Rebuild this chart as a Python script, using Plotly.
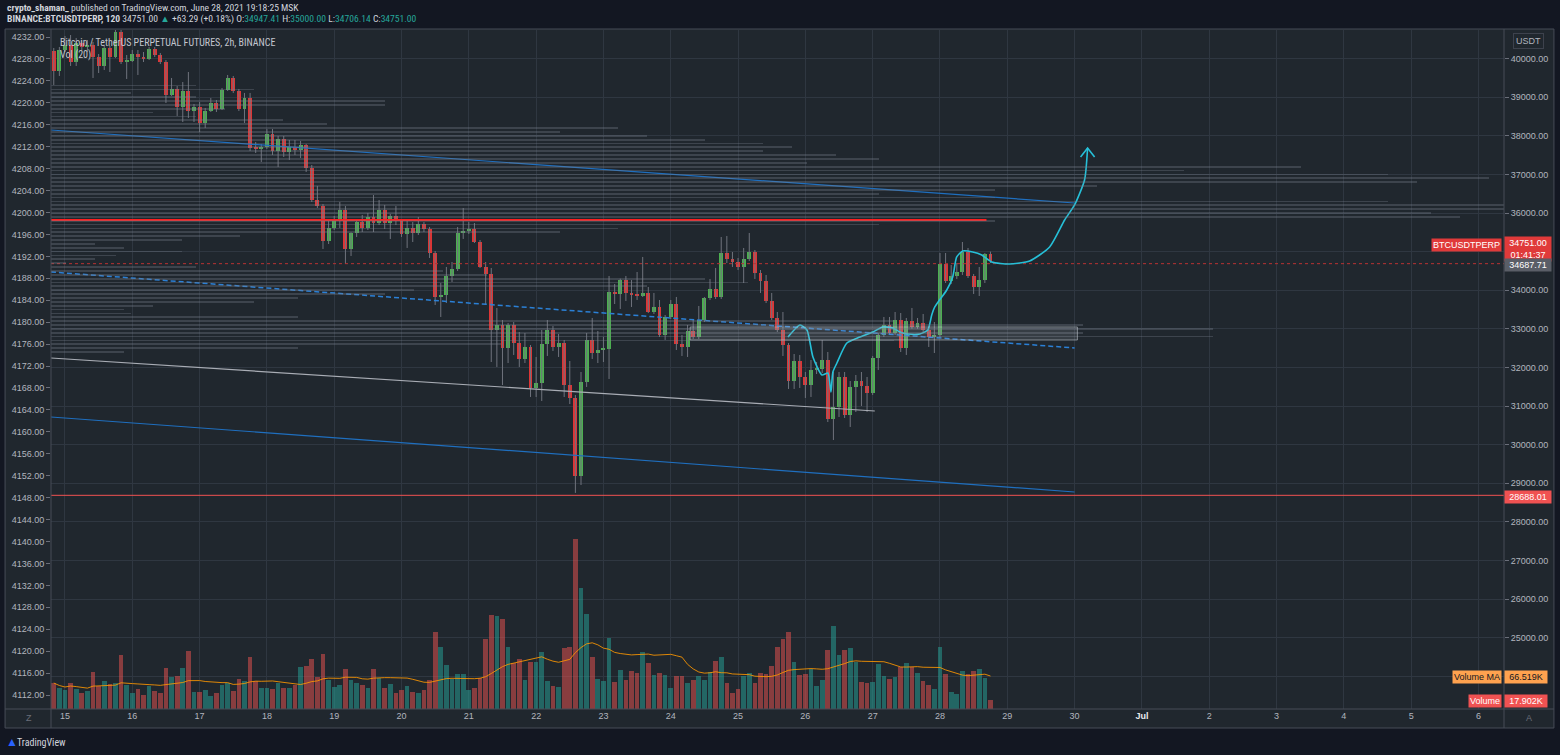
import pandas as pd
import plotly.graph_objects as go

# ---------------- data ----------------
bar_times = pd.date_range("2021-06-14 20:00", periods=168, freq="2h")

opens = [40196,39678,40222,40352,39911,40403,40300,40352,40041,39808,
40274,40041,40688,39911,39937,40118,40041,39989,40248,40092,
39911,39057,39212,38746,39160,38642,38746,38331,38642,38849,
38694,39186,39497,39160,38694,38979,37684,37658,37710,38046,
37606,37917,37580,37710,37630,37760,37166,36337,36182,35275,
35612,35793,36078,35068,35482,35767,35612,35897,35741,36078,
35741,35923,35793,35456,35612,35482,35715,35586,34964,33825,
33877,34369,34550,35482,35530,35586,35249,34602,34421,32970,
33100,32504,33100,32633,32219,32530,31468,31597,32607,32970,
32530,32633,31545,31209,29189,31623,32711,32374,32452,32478,
33955,33903,34265,33929,33877,33851,33929,33436,33566,32841,
33307,33643,32607,32530,32944,32789,33229,33799,34032,33825,
34964,34809,34731,34602,34809,34990,34446,34239,33721,33281,
32970,32582,31649,32167,31753,31545,31934,31960,32193,30665,
30976,31753,30768,31494,31649,31519,31338,32245,32841,33100,
32892,33229,32504,33203,33048,33151,32970,32789,32841,34679,
34239,34369,34472,34990,34369,34084,34265,34947.41]

closes = [39678,40222,40352,39911,40403,40300,40352,40041,39808,40274,
40041,40688,39911,39937,40118,40041,39989,40248,40092,39911,
39057,39212,38746,39160,38642,38746,38331,38642,38849,38694,
39186,39497,39160,38694,38979,37684,37658,37710,38046,37606,
37917,37580,37710,37630,37760,37166,36337,36182,35275,35612,
35793,36078,35068,35482,35767,35612,35897,35741,36078,35741,
35923,35793,35456,35612,35482,35715,35586,34964,33825,33877,
34369,34550,35482,35530,35586,35249,34602,34421,32970,33100,
32504,33100,32633,32219,32530,31468,31597,32607,32970,32530,
32633,31545,31209,29189,31623,32711,32374,32452,32478,33955,
33903,34265,33929,33877,33851,33929,33436,33566,32841,33307,
33643,32607,32530,32944,32789,33229,33799,34032,33825,34964,
34809,34731,34602,34809,34990,34446,34239,33721,33281,32970,
32582,31649,32167,31753,31545,31934,31960,32193,30665,30976,
31753,30768,31494,31649,31519,31338,32245,32841,33100,32892,
33229,32504,33203,33048,33151,32970,32789,32841,34679,34239,
34369,34472,34990,34369,34084,34265,34938,34751.00]

highs = [40274,40300,40585,40610,40533,40481,40481,40429,40118,40352,
40326,40780,40900,40092,40222,40222,40170,40300,40300,40144,
39963,39497,39290,39393,39652,38823,38875,38720,38979,38927,
39238,39575,39549,39212,39109,39109,37839,37787,38176,38176,
37995,37995,37891,37891,37865,37790,37244,36700,36234,35793,
35923,36285,36182,35500,35819,35949,36000,36466,36337,36208,
35974,36182,35845,35793,35767,35897,35767,35638,35016,34187,
34602,34731,35638,36130,35767,35741,35301,34731,34576,33540,
33229,33151,33177,32918,32892,32582,32271,32970,33229,33074,
32866,32711,32167,31286,31882,32892,33281,32944,32789,34369,
34161,34300,34369,34265,34472,34861,34084,33929,33747,33359,
33747,33825,32841,33100,33229,33592,33825,34291,34576,35379,
35405,34990,34835,35094,35482,35042,34524,34395,33929,33436,
33436,32633,32348,32323,31882,32193,32141,32711,32400,31882,
31882,31882,31649,31804,31882,31753,32297,32892,33307,33307,
33436,33410,33281,33540,33281,33385,33048,33177,34964,34964,
34654,34705,35249,35094,34421,34602,34964,35000.00]

lows = [39316,39549,40170,39808,39808,40222,40170,39497,39626,39704,
39652,40015,39859,39471,39911,39575,39911,39963,40041,39859,
38849,39031,38513,38357,38461,38357,38098,38202,38616,38616,
38668,39160,39109,38642,38331,37606,37554,37321,37658,37503,
37192,37451,37373,37503,37425,37062,36285,36130,35068,35197,
35560,35612,34679,34887,35379,35508,35560,35508,35689,35586,
35327,35689,35379,35094,35249,35431,35508,34835,33618,33307,
33669,34213,34498,35327,35456,35223,34576,33618,32141,32012,
31545,32115,32323,32012,32115,31235,31235,31131,32297,32426,
32271,31235,31053,28750,28955,31494,32219,32115,32141,31701,
33643,33514,33721,33566,33747,33825,33410,33385,32789,32711,
33255,32452,32297,32271,32737,32737,33177,33747,33773,33773,
34705,34602,34524,34187,34757,34291,33929,33669,33229,32918,
32297,31442,31442,31468,31209,31235,31830,31856,30587,30121,
30717,30691,30458,30846,31002,30846,31286,31934,32789,32841,
32841,32400,32323,32996,32996,32918,32530,32374,32763,34187,
34161,34291,34395,34317,33903,33851,34187,34706.14]

volumes_k = [52,42,38,52,40,32,36,74,47,57,
51,52,108,49,32,40,28,47,37,32,
82,65,67,83,116,35,35,38,27,33,
49,52,36,61,57,105,56,42,42,40,
53,42,43,49,84,87,101,65,111,59,
45,49,80,59,53,48,43,80,62,42,
51,33,38,47,35,32,39,59,154,124,
89,60,71,71,39,43,62,141,189,187,
181,124,92,100,59,94,94,114,57,47,
45,123,124,340,242,191,104,60,56,143,
55,79,59,77,73,114,93,69,73,69,
43,67,67,53,59,67,59,74,97,104,
52,33,41,67,72,53,72,71,87,124,
141,155,95,69,71,80,47,59,119,167,
108,119,122,95,55,52,55,91,67,61,
65,84,92,84,72,57,48,41,125,71,
34,31,77,71,77,81,63,17.902]

# drawings (time, price)
channel_t = ["2021-06-14 19:00", "2021-06-30 00:00"]
upper_channel_p = [38150, 36259]
mid_channel_p = [34472, 32504]
lower_channel_p = [30717, 28774]
support_t = ["2021-06-14 19:00", "2021-06-27 00:45"]
support_p = [32245, 30872]
resistance_t = ["2021-06-14 19:00", "2021-06-28 16:35"]
resistance_level = 35819
low_level = 28688.01
prev_close_level = 34687.71
last_price = 34751.00
zone_t = ["2021-06-24 06:55", "2021-06-30 01:00"]
zone_p = [32711, 33048]

proj_t = ["2021-06-25 17:48","2021-06-25 22:05","2021-06-26 00:34","2021-06-26 02:42",
          "2021-06-26 05:54","2021-06-26 08:02","2021-06-26 09:07","2021-06-26 09:49",
          "2021-06-26 11:15","2021-06-26 14:48","2021-06-26 19:26","2021-06-27 00:04",
          "2021-06-27 03:37","2021-06-27 07:12","2021-06-27 09:42","2021-06-27 12:32",
          "2021-06-27 16:48","2021-06-27 19:39","2021-06-27 21:04","2021-06-27 22:09",
          "2021-06-28 02:25","2021-06-28 04:33","2021-06-28 05:58","2021-06-28 08:07",
          "2021-06-28 11:41","2021-06-28 14:53","2021-06-28 18:27","2021-06-29 00:52",
          "2021-06-29 07:58","2021-06-29 15:06","2021-06-29 20:27","2021-06-30 00:00",
          "2021-06-30 03:33","2021-06-30 04:38"]
proj_p = [32789,33100,32970,32271,31804,31856,31364,31882,32115,32633,32789,32918,
          33048,33022,32918,32866,32866,32970,33359,33566,34006,34343,34861,35016,
          34990,34912,34731,34679,34757,35120,35819,36208,36855,37684]
arrow_t = ["2021-06-30 02:08", "2021-06-30 04:38", "2021-06-30 07:08"]
arrow_p = [37451, 37684, 37451]

# volume profile rows (price level, relative volume 0-100)
vp_price = [39300,39200,39100,39000,38900,38800,38700,38600,38500,38400,38300,38200,
            38100,38000,37900,37800,37700,37600,37500,37400,37300,37200,37100,37000,
            36900,36800,36700,36600,36500,36400,36300,36200,36100,36000,35900,35800,
            35700,35600,35500,35400,35300,35200,35100,35000,34900,34800,34700,34600,
            34500,34400,34300,34200,34100,34000,33900,33800,33700,33600,33500,33400,
            33300,33200,33100,33000,32900,32800,32700,32600,32500,32400]
vp_size = [10,14,5.5,10,23,23,12,7,10,16,19,39,
           35,41,45,49,51,49,54,57,52,86,78,92,
           99,94,72,65,57,65,92,100,100,95,97,65,
           57,39,35,13,9,3,5,9,4.5,3,1,10,
           27,30,45,48,41,25,23,17,14,7,5,5.5,
           17,58,71,80,71,80,58,31,17,5]

# ---------------- styling helpers ----------------
W, H = 1560, 755
ML, MR, MT, MB = 50, 55, 30, 46
PW, PH = W - ML - MR, H - MT - MB
def px(X):
    return (X - ML) / PW
def py(Y):
    return (H - MB - Y) / PH

BG = "#20272e"
GRID = "#2f3741"
SEP = "#474c57"
TXT = "#b2b5be"
UP, DOWN = "#4caf50", "#dd3535"
FONT = "Liberation Sans"
NARROW = "Liberation Sans Narrow, Arial Narrow, Roboto Condensed, Liberation Sans"

day0 = pd.Timestamp("2021-06-15 00:00")
px_per_day = 67.4
x_left = day0 - pd.Timedelta(days=(64 - ML) / px_per_day)
x_right = day0 + pd.Timedelta(days=(W - MR - 64) / px_per_day)
p_top = 36000 + (213 - MT) * 25.9
p_bot = 36000 + (213 - (H - MB)) * 25.9

fig = go.Figure()

# volume profile
fig.add_trace(go.Bar(x=vp_size, y=vp_price, orientation="h", xaxis="x2", yaxis="y",
                     width=45, marker=dict(color="rgba(125,131,143,0.32)", line=dict(width=0)),
                     hoverinfo="skip", showlegend=False))

# volume
vol = [v * 1000 for v in volumes_k]
vcol = ["rgba(38,166,154,0.5)" if c >= o else "rgba(239,83,80,0.5)" for o, c in zip(opens, closes)]
fig.add_trace(go.Bar(x=bar_times, y=vol, yaxis="y2", width=6.0e6,
                     marker=dict(color=vcol, line=dict(width=0)), showlegend=False))
vol_ma = pd.Series(vol).rolling(20, min_periods=1).mean()
fig.add_trace(go.Scatter(x=bar_times, y=vol_ma, yaxis="y2", mode="lines",
                         line=dict(color="rgba(255,152,0,0.85)", width=1), showlegend=False))

# wicks
wx, wy = [], []
for t, h_, l_ in zip(bar_times, highs, lows):
    wx += [t, t, None]
    wy += [l_, h_, None]
fig.add_trace(go.Scatter(x=wx, y=wy, mode="lines", line=dict(color="#6f737d", width=1),
                         showlegend=False, hoverinfo="skip"))
# bodies
base = [min(o, c) for o, c in zip(opens, closes)]
hgt = [max(abs(c - o), 22) for o, c in zip(opens, closes)]
bcol = [UP if c >= o else DOWN for o, c in zip(opens, closes)]
fig.add_trace(go.Bar(x=bar_times, y=hgt, base=base, width=5.0e6,
                     marker=dict(color=bcol, line=dict(width=0)), showlegend=False))

# drawings
fig.add_trace(go.Scatter(x=channel_t, y=upper_channel_p, mode="lines",
                         line=dict(color="#1f6fbf", width=1.2), showlegend=False))
fig.add_trace(go.Scatter(x=channel_t, y=mid_channel_p, mode="lines",
                         line=dict(color="#2b80d6", width=1.5, dash="5px,3px"), showlegend=False))
fig.add_trace(go.Scatter(x=channel_t, y=lower_channel_p, mode="lines",
                         line=dict(color="#1f6fbf", width=1.2), showlegend=False))
fig.add_trace(go.Scatter(x=support_t, y=support_p, mode="lines",
                         line=dict(color="#a9adb5", width=1.2), showlegend=False))
fig.add_trace(go.Scatter(x=resistance_t, y=[resistance_level] * 2, mode="lines",
                         line=dict(color="#ff1f1f", width=2), showlegend=False))
fig.add_trace(go.Scatter(x=[x_left, x_right], y=[low_level] * 2, mode="lines",
                         line=dict(color="#f05252", width=1), showlegend=False))
fig.add_trace(go.Scatter(x=[x_left, x_right], y=[prev_close_level] * 2, mode="lines",
                         line=dict(color="#b83232", width=1, dash="dot"), showlegend=False))
fig.add_trace(go.Scatter(x=proj_t, y=proj_p, mode="lines", line=dict(color="#26c0d8", width=1.6, shape="spline", smoothing=0.6),
                         showlegend=False))
fig.add_trace(go.Scatter(x=arrow_t, y=arrow_p, mode="lines", line=dict(color="#26c0d8", width=1.6),
                         showlegend=False))
fig.add_trace(go.Scatter(x=[], y=[], yaxis="y3", showlegend=False))

shapes = [
    dict(type="rect", xref="paper", yref="paper", x0=px(4), x1=px(1555), y0=py(728), y1=py(29),
         fillcolor=BG, line=dict(color=SEP, width=1), layer="below"),
    dict(type="rect", xref="x", yref="y", x0=zone_t[0], x1=zone_t[1], y0=zone_p[0], y1=zone_p[1],
         fillcolor="rgba(190,195,205,0.14)", line=dict(color="rgba(200,205,215,0.55)", width=1)),
    dict(type="line", xref="paper", yref="paper", x0=px(4), x1=px(1555), y0=py(709), y1=py(709),
         line=dict(color=SEP, width=1)),
    dict(type="line", xref="paper", yref="paper", x0=px(50), x1=px(50), y0=py(728), y1=py(29),
         line=dict(color=SEP, width=1)),
    dict(type="line", xref="paper", yref="paper", x0=px(1505), x1=px(1505), y0=py(728), y1=py(29),
         line=dict(color=SEP, width=1)),
]

ann = []
def A(x, y, text, size=9, color=TXT, xanchor="left", bg=None, border=None, width=None,
      align="left", yanchor="middle", pad=1, family=FONT):
    d = dict(xref="paper", yref="paper", x=x, y=y, text=text, showarrow=False,
             font=dict(family=family, size=size, color=color), xanchor=xanchor, yanchor=yanchor,
             align=align, borderpad=pad)
    if bg: d["bgcolor"] = bg
    if border: d["bordercolor"] = border; d["borderwidth"] = 1
    if width: d["width"] = width
    ann.append(d)

teal = "#26a69a"
A(px(4), py(8), "<b>crypto_shaman_</b> published on TradingView.com, June 28, 2021 19:18:25 MSK",
  size=9.6, color="#d1d4dc", family=NARROW)
A(px(4), py(19), f"<b>BINANCE:BTCUSDTPERP, 120</b> 34751.00 <span style='color:{teal}'>▲</span> +63.29 (+0.18%) "
  f"O:<span style='color:{teal}'>34947.41</span> H:<span style='color:{teal}'>35000.00</span> "
  f"L:<span style='color:{teal}'>34706.14</span> C:<span style='color:{teal}'>34751.00</span>",
  size=9.6, color="#d1d4dc", family=NARROW)
A(px(57), py(42), "Bitcoin / TetherUS PERPETUAL FUTURES, 2h, BINANCE", size=10, color="#c3c6ce", family=NARROW)
A(px(57), py(55), "Vol (20)", size=10, color="#c3c6ce", family=NARROW)

A(px(1529.5), py(41), "USDT", size=9, xanchor="center", border="#3d424d", bg=BG, pad=2)
A(px(1503), py(244.5), "BTCUSDTPERP", size=9, color="white", xanchor="right", bg="#e03a3a")
A(px(1505), py(249), "34751.00<br>01:41:37", size=9, color="white", bg="#e03a3a", width=44, align="center")
A(px(1505), py(265), "34687.71", size=9, color="white", bg="#5a5e67", width=44, align="center")
A(px(1505), py(496.5), "28688.01", size=9, color="white", bg="#f05252", width=44, align="center")
A(px(1503), py(677), "Volume MA", size=9, color="#131722", xanchor="right", bg="#ffa24f")
A(px(1505), py(677), "66.519K", size=9, color="#131722", bg="#ffa24f", width=40, align="center")
A(px(1503), py(701), "Volume", size=9, color="white", xanchor="right", bg="#f05252")
A(px(1505), py(701), "17.902K", size=9, color="white", bg="#f05252", width=40, align="center")
A(px(28), py(718), "Z", size=9, color="#6b6f7a", xanchor="center")
A(px(1530), py(718), "A", size=9, color="#6b6f7a", xanchor="center")
A(px(14), py(742), "TradingView", size=10, color="#d1d4dc", family=NARROW)
A(px(3), py(742), "▲", size=12, color="#2962ff")

days = pd.date_range("2021-06-15", "2021-07-06", freq="D")
day_text = ["<span style='color:#e8eaed'><b>Jul</b></span>" if d.month == 7 and d.day == 1 else str(d.day)
            for d in days]

price_ticks = list(range(24000, 40001, 1000))
price_text = ["" if v == 24000 else f"{v}.00" for v in price_ticks]

fig.update_layout(
    width=W, height=H, margin=dict(l=ML, r=MR, t=MT, b=MB),
    paper_bgcolor="#131722", plot_bgcolor=BG, barmode="overlay", bargap=0,
    showlegend=False, shapes=shapes, annotations=ann,
    font=dict(family=FONT, size=9, color=TXT),
    xaxis=dict(type="date", range=[x_left, x_right], tickvals=days, ticktext=day_text,
               showgrid=True, gridcolor=GRID, gridwidth=1, zeroline=False, showline=False,
               ticks="", tickfont=dict(size=9, color=TXT), fixedrange=True),
    xaxis2=dict(overlaying="x", range=[0, 100], visible=False, side="top"),
    yaxis=dict(side="right", range=[p_bot, p_top], tickvals=price_ticks, ticktext=price_text,
               showgrid=True, gridcolor=GRID, zeroline=False, showline=False,
               ticks="outside", ticklen=4, tickcolor="#6b6f7a", tickfont=dict(size=9, color=TXT)),
    yaxis2=dict(overlaying="y", range=[0, 1.358e6], visible=False),
    yaxis3=dict(overlaying="y", side="left", anchor="x", range=[4109.45, 4233.28],
                tickvals=list(range(4112, 4233, 4)), ticktext=[f"{v}.00" for v in range(4112, 4233, 4)],
                showgrid=False, zeroline=False, showline=False,
                ticks="outside", ticklen=4, tickcolor="#6b6f7a", tickfont=dict(size=9, color=TXT)),
)

fig.write_html("out.html", config={"displayModeBar": False},
               post_script="document.body.style.margin='0';document.body.style.overflow='hidden';")
